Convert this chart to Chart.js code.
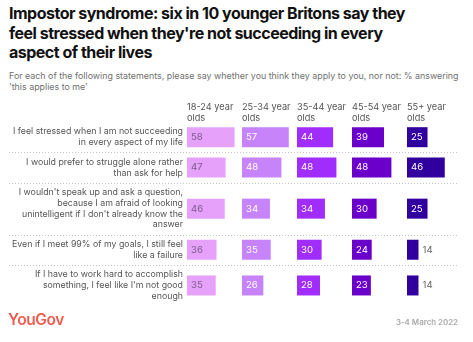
<!DOCTYPE html>
<html>
<head>
<meta charset="utf-8">
<script src="https://cdn.jsdelivr.net/npm/chart.js@4"></script>
<style>
  body { margin: 0; background: #fff; font-family: Inter, "Noto Sans", sans-serif; }
  #wrap { position: relative; width: 473px; height: 342px; overflow: hidden; }
  #title { position: absolute; left: 9px; top: 4px; font-size: 16px; font-weight: 700; line-height: 19.5px; color: #111; letter-spacing: -0.5px; white-space: nowrap; }
  #sub { position: absolute; left: 9px; top: 70px; font-size: 8.9px; line-height: 11px; color: #707070; white-space: nowrap; }
  #logo { position: absolute; left: 8px; top: 310px; font-size: 15.5px; font-weight: 600; color: #f15a4f; letter-spacing: -0.4px; }
  #date { position: absolute; right: 15px; top: 317px; font-size: 7.9px; font-weight: 600; color: #aaa; }
  canvas { position: absolute; left: 0; top: 0; }
</style>
</head>
<body>
<div id="wrap">
  <div id="title">Impostor syndrome: six in 10 younger Britons say they<br>feel stressed when they're not succeeding in every<br>aspect of their lives</div>
  <div id="sub">For each of the following statements, please say whether you think they apply to you, nor not: % answering<br>'this applies to me'</div>
  <canvas id="chart" width="473" height="342"></canvas>
  <div id="logo">YouGov</div>
  <div id="date">3-4 March 2022</div>
</div>
<script>
    // statements (already split into the lines shown)
    const statements = [
        ['I feel stressed when I am not succeeding', 'in every aspect of my life'],
        ['I would prefer to struggle alone rather', 'than ask for help'],
        ["I wouldn't speak up and ask a question,", 'because I am afraid of looking', "unintelligent if I don't already know the", 'answer'],
        ['Even if I meet 99% of my goals, I still feel', 'like a failure'],
        ['If I have to work hard to accomplish', "something, I feel like I'm not good", 'enough']
    ];
    const ageGroups = [['18-24 year', 'olds'], ['25-34 year', 'olds'], ['35-44 year', 'olds'], ['45-54 year', 'olds'], ['55+ year', 'olds']];

    const age1824 = [58, 47, 46, 36, 35];
    const age2534 = [57, 48, 34, 35, 26];
    const age3544 = [44, 48, 34, 30, 28];
    const age4554 = [39, 48, 30, 24, 23];
    const age55 = [25, 46, 25, 14, 14];
    const series = [age1824, age2534, age3544, age4554, age55];

    const colors = ['#e6a2fb', '#c683fa', '#a02dfc', '#6b00cb', '#30009f'];

    // row heights follow the number of label lines
    const lineH = 10.7;
    const bounds = [0];
    statements.forEach(s => bounds.push(bounds[bounds.length - 1] + s.length * lineH + 9));
    const centers = statements.map((s, i) => (bounds[i] + bounds[i + 1]) / 2);
    const total = bounds[bounds.length - 1];

    const scales = {
        y: {
            type: 'linear', reverse: true, min: 0, max: total, offset: false,
            grid: { display: false, drawTicks: false }, border: { display: false },
            afterBuildTicks: s => { s.ticks = centers.map(v => ({ value: v })); },
            afterFit: s => { s.width = 178; s.paddingTop = 0; s.paddingBottom = 0; },
            ticks: {
                autoSkip: false, padding: 4, color: '#555',
                font: { family: 'Inter', size: 8.8, lineHeight: lineH + 'px' },
                callback: (v, i) => statements[i]
            }
        }
    };
    series.forEach((d, i) => {
        scales['x' + i] = {
            type: 'linear', position: 'top', stack: 'cols', weight: 10 - i,
            min: 0, max: 67,
            grid: { display: false }, border: { display: false }, ticks: { display: false },
            afterFit: s => { s.height = 20; s.paddingLeft = 0; s.paddingRight = 0; },
            title: {
                display: true, text: ageGroups[i], align: 'start', color: '#555',
                padding: { top: 0, bottom: 0 },
                font: { family: 'Inter', size: 9.2, lineHeight: '10.5px' }
            }
        };
    });

    const datasets = series.map((d, i) => ({
        data: d.map((v, j) => ({ x: v, y: centers[j] })),
        xAxisID: 'x' + i,
        backgroundColor: colors[i],
        grouped: false,
        maxBarThickness: 20
    }));

    // dotted separators between the statements
    const rowLines = {
        id: 'rowLines',
        afterDraw(chart) {
            const ctx = chart.ctx, y = chart.scales.y;
            ctx.save();
            ctx.strokeStyle = '#c4c4c4';
            ctx.lineWidth = 1;
            ctx.setLineDash([1, 2]);
            for (let i = 1; i < bounds.length - 1; i++) {
                const py = Math.round(y.getPixelForValue(bounds[i])) + 0.5;
                ctx.beginPath();
                ctx.moveTo(9, py);
                ctx.lineTo(457, py);
                ctx.stroke();
            }
            ctx.restore();
        }
    };

    const valueLabels = {
        id: 'valueLabels',
        afterDatasetsDraw(chart) {
            const ctx = chart.ctx;
            ctx.save();
            ctx.font = '9.6px Inter';
            ctx.textBaseline = 'middle';
            chart.data.datasets.forEach((ds, i) => {
                chart.getDatasetMeta(i).data.forEach((bar, j) => {
                    const v = series[i][j];
                    if (bar.x - bar.base > 18) {
                        ctx.fillStyle = i === 0 ? '#7e5a8e' : '#fff';
                        ctx.fillText(v, bar.base + 4, bar.y);
                    } else {
                        ctx.fillStyle = '#666';
                        ctx.fillText(v, bar.x + 4, bar.y);
                    }
                });
            });
            ctx.restore();
        }
    };

    new Chart(document.getElementById('chart'), {
        type: 'bar',
        data: { datasets },
        options: {
            indexAxis: 'y',
            responsive: false,
            animation: false,
            devicePixelRatio: 1,
            layout: { padding: { left: 9, right: 11, top: 102, bottom: 36 } },
            scales,
            plugins: { legend: { display: false }, tooltip: { enabled: false } }
        },
        plugins: [rowLines, valueLabels]
    });
</script>
</body>
</html>
